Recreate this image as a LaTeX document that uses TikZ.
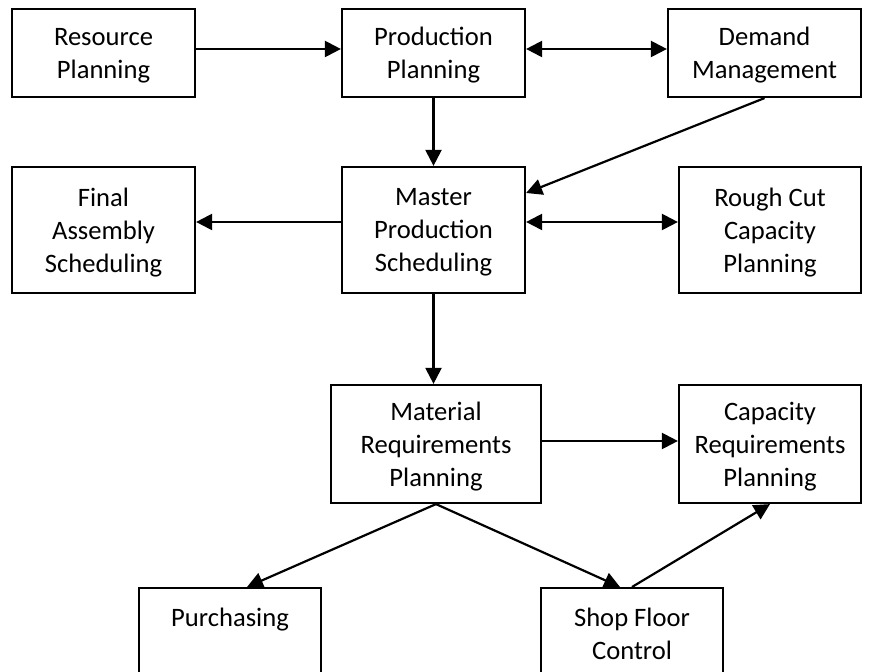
\documentclass[tikz,border=0pt]{standalone}
\usepackage{fontspec}
\setmainfont{Carlito}
\usetikzlibrary{arrows.meta}
\begin{document}
\begin{tikzpicture}[x=0.5pt,y=-0.5pt,
	box/.style={draw=black,line width=1.1pt,align=center,inner sep=2pt,minimum width=91.5pt,text depth=0pt,font=\fontsize{13.3}{16.5}\selectfont},
	flow/.style={line width=1.1pt,-{Triangle[length=8pt,width=8pt]}},
	twoway/.style={line width=1.1pt,{Triangle[length=8pt,width=8pt]}-{Triangle[length=8pt,width=8pt]}}]
	\useasboundingbox (0,0) rectangle (872,672);
	\clip (0,0) rectangle (872,672);
	% top row
	\node[box,minimum height=44pt] (res) at (103.5,53) {Resource\\Planning};
	\node[box,minimum height=44pt] (prod) at (433.5,53) {Production\\Planning};
	\node[box,minimum height=44pt,minimum width=96.5pt] (dem) at (764.5,53) {Demand\\Management};
	% middle row
	\node[box,minimum height=63pt] (fas) at (103.5,230) {Final\\Assembly\\Scheduling};
	\node[box,minimum height=63pt] (mps) at (433.5,230) {Master\\Production\\Scheduling};
	\node[box,minimum height=63pt,minimum width=91pt] (rccp) at (770,230) {Rough Cut\\Capacity\\Planning};
	% lower row
	\node[box,minimum height=59pt,minimum width=105pt] (mrp) at (436,444) {Material\\Requirements\\Planning};
	\node[box,minimum height=59pt,minimum width=91pt] (crp) at (770,444) {Capacity\\Requirements\\Planning};
	% bottom row, cut by the page edge
	\node[box,anchor=north,minimum width=91pt,text height=17pt,text depth=38pt] (pur) at (230,587) {Purchasing};
	\node[box,anchor=north,minimum width=91pt,text height=33.5pt,text depth=21.5pt] (sfc) at (632,587) {Shop Floor\\Control};
	\draw[flow] ([yshift=2pt]res.east) -- ([yshift=2pt]prod.west);
	\draw[twoway] ([yshift=2pt]prod.east) -- ([yshift=2pt]dem.west);
	\draw[flow] (prod) -- (mps);
	\draw[flow] (dem.south) -- ([yshift=18.5pt]mps.east);
	\draw[flow] ([yshift=4pt]mps.west) -- ([yshift=4pt]fas.east);
	\draw[twoway] ([yshift=4pt]mps.east) -- ([yshift=4pt]rccp.west);
	\draw[flow] (mps.south) -- (mps.south |- mrp.north);
	\draw[flow] ([yshift=1.5pt]mrp.east) -- ([yshift=1.5pt]crp.west);
	\draw[flow] (mrp.south) -- ([xshift=8.5pt]pur.north);
	\draw[flow] (mrp.south) -- ([xshift=-6pt]sfc.north);
	\draw[flow] (sfc.north) -- (crp.south);
\end{tikzpicture}
\end{document}
